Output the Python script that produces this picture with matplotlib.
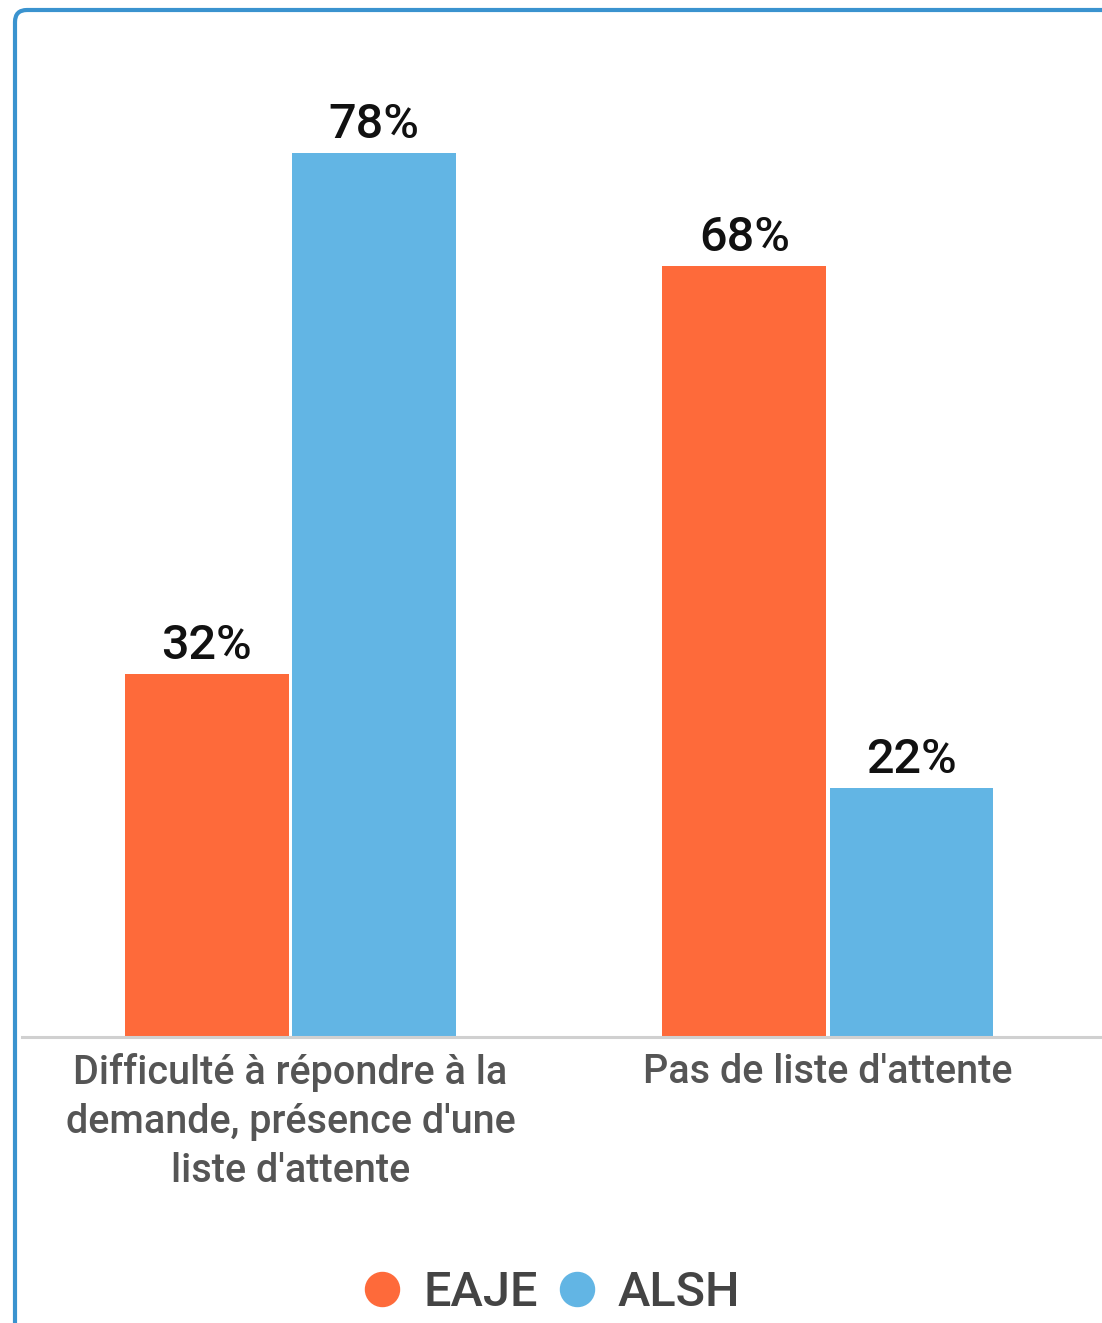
import matplotlib.pyplot as plt
import numpy as np
from matplotlib.patches import FancyBboxPatch
from matplotlib.lines import Line2D

plt.rcParams["font.family"] = ["Roboto", "DejaVu Sans"]

categories = ["Difficulté à répondre à la\ndemande, présence d'une\nliste d'attente",
              "Pas de liste d'attente"]
series_names = ["EAJE", "ALSH"]
eaje = [32, 68]
alsh = [78, 22]
colors = ["#FE6A3A", "#62B5E4"]

W, H = 1102, 1323
fig = plt.figure(figsize=(W / 100, H / 100), dpi=100)

# axes placed in pixel terms: left 22, right 1102, baseline at y=1037, 80% at y~130
ax = fig.add_axes([22 / W, (H - 1037) / H, (W - 22) / W, (1037 - 130.5) / H])

x = np.arange(len(categories))
width = 0.305
offset = 0.1555
for vals, name, col, sign in [(eaje, series_names[0], colors[0], -1),
                               (alsh, series_names[1], colors[1], 1)]:
    bars = ax.bar(x + sign * offset, vals, width, color=col, label=name)
    for b, v in zip(bars, vals):
        ax.text(b.get_x() + b.get_width() / 2, v + 0.45, f"{v}%",
                ha="center", va="bottom", fontsize=35, fontweight="medium",
                color="#111111")

ax.set_xlim(-0.4995, 1.51)
ax.set_ylim(0, 80)
ax.set_xticks(x)
ax.set_xticklabels(categories, fontsize=28.5, color="#555555", linespacing=1.37,
                   fontweight="medium")
ax.tick_params(axis="x", length=0, pad=11.5)
ax.set_yticks([])
for s in ["top", "right", "left"]:
    ax.spines[s].set_visible(False)
ax.spines["bottom"].set_color("#d0d0d0")
ax.spines["bottom"].set_linewidth(2.2)

handles = [Line2D([], [], marker="o", linestyle="", markersize=24.5,
                  markerfacecolor=c, markeredgecolor=c) for c in colors]
fig.legend(handles, series_names, loc="center", bbox_to_anchor=(549 / W, 30 / H),
           ncol=2, frameon=False, labelcolor="#444444",
           prop={"size": 35, "weight": "medium"},
           handletextpad=0.35, columnspacing=0.3, handlelength=1.0)

# rounded card border, cut at the right and bottom edges
border = FancyBboxPatch((15, -60), 1300, H - 10 + 60,
                        boxstyle="round,pad=0,rounding_size=12",
                        transform=None, facecolor="none",
                        edgecolor="#3A93CF", linewidth=3)
fig.patches.append(border)

fig.savefig("out.png", dpi=100)
